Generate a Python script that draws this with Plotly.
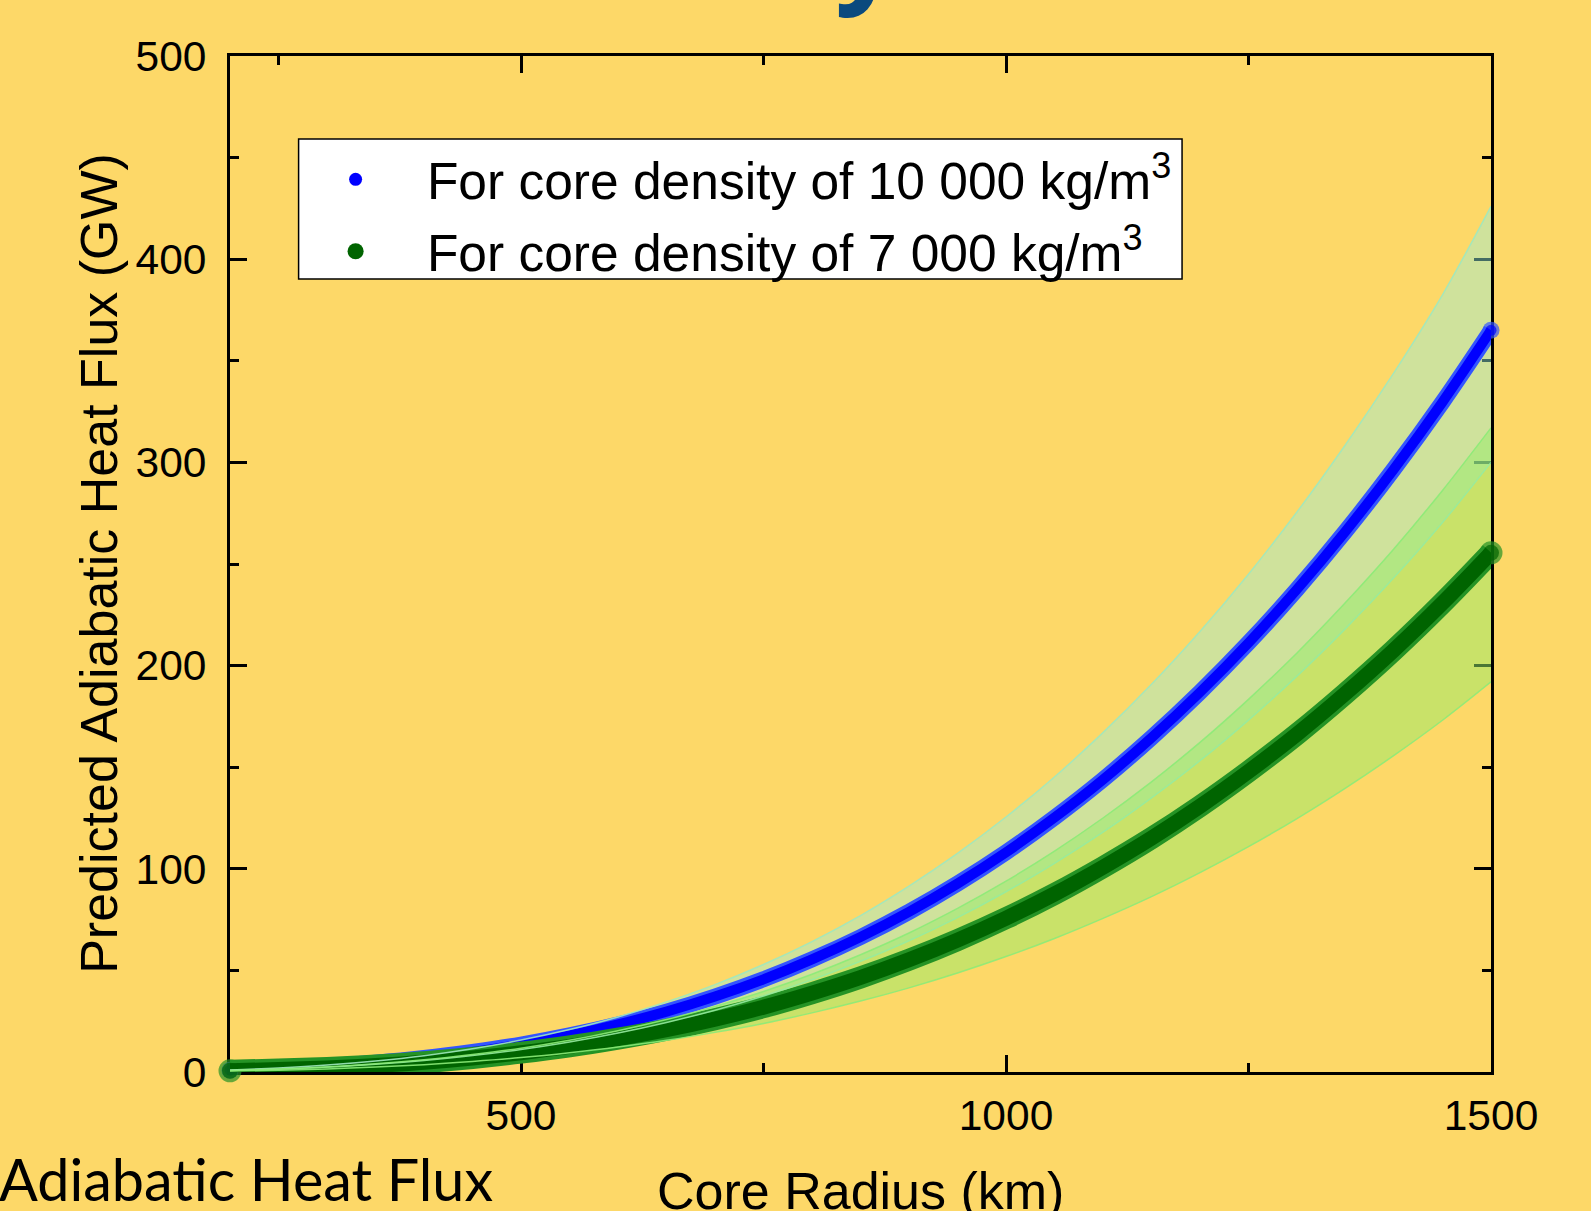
import plotly.graph_objects as go

# ---- data ----
radius_km = [200, 250, 300, 350, 400, 450, 500, 550, 600, 650, 700, 750, 800, 850,
             900, 950, 1000, 1050, 1100, 1150, 1200, 1250, 1300, 1350, 1400, 1450, 1500]

flux_10000 = [0.9, 1.7, 2.9, 4.6, 6.9, 9.9, 13.5, 18.0, 23.4, 29.7, 37.1, 45.6, 55.4, 66.4,
              78.8, 92.7, 108.1, 125.2, 143.9, 164.5, 186.9, 211.2, 237.6, 266.1, 296.8, 329.7, 365.0]
flux_10000_hi = [1.0, 2.0, 3.4, 5.4, 8.0, 11.4, 15.7, 20.9, 27.1, 34.5, 43.0, 52.9, 64.2, 77.0,
                 91.5, 107.6, 125.5, 145.2, 167.0, 190.8, 216.8, 245.0, 275.6, 308.7, 344.2, 382.5, 426.0]
flux_10000_lo = [0.7, 1.4, 2.4, 3.8, 5.7, 8.1, 11.1, 14.8, 19.2, 24.4, 30.4, 37.4, 45.4, 54.5,
                 64.6, 76.0, 88.7, 102.7, 118.0, 134.9, 153.2, 173.2, 194.8, 218.2, 243.3, 270.4, 300.0]

flux_7000 = [0.6, 1.2, 2.0, 3.2, 4.8, 6.9, 9.5, 12.6, 16.4, 20.8, 26.0, 31.9, 38.8, 46.5,
             55.2, 64.9, 75.7, 87.6, 100.8, 115.1, 130.8, 147.9, 166.3, 186.3, 207.7, 230.8, 255.5]
flux_7000_hi = [0.75, 1.5, 2.5, 4.0, 6.0, 8.6, 11.7, 15.6, 20.3, 25.8, 32.2, 39.6, 48.1, 57.7,
                68.4, 80.5, 93.9, 108.7, 125.0, 142.8, 162.2, 183.4, 206.2, 231.0, 257.5, 286.2, 317.0]
flux_7000_lo = [0.45, 0.9, 1.5, 2.4, 3.6, 5.2, 7.1, 9.5, 12.3, 15.6, 19.5, 23.9, 29.1, 34.9,
                41.4, 48.7, 56.8, 65.7, 75.6, 86.3, 98.1, 110.9, 124.7, 139.7, 155.8, 173.1, 192.0]

legend_names = ["\u00a0For core density of 10 000 kg/m<sup>3</sup>",
                "\u00a0For core density of 7 000 kg/m<sup>3</sup>"]

BG = "#FDD868"
FONT = "Liberation Sans, Arial, sans-serif"

fig = go.Figure()

n = len(radius_km)


def end_sizes(w):
    return [w] + [0] * (n - 2) + [w]


# uncertainty bands
fig.add_trace(go.Scatter(x=radius_km, y=flux_10000_lo, mode="lines",
                         line=dict(color="rgba(0,0,0,0)", width=0),
                         showlegend=False, hoverinfo="skip"))
fig.add_trace(go.Scatter(x=radius_km, y=flux_10000_hi, mode="lines", fill="tonexty",
                         fillcolor="rgba(150,240,220,0.45)",
                         line=dict(color="rgba(0,0,0,0)", width=0),
                         showlegend=False, hoverinfo="skip"))
fig.add_trace(go.Scatter(x=radius_km, y=flux_7000_lo, mode="lines",
                         line=dict(color="rgba(0,0,0,0)", width=0),
                         showlegend=False, hoverinfo="skip"))
fig.add_trace(go.Scatter(x=radius_km, y=flux_7000_hi, mode="lines", fill="tonexty",
                         fillcolor="rgba(150,235,105,0.5)",
                         line=dict(color="rgba(0,0,0,0)", width=0),
                         showlegend=False, hoverinfo="skip"))

# main curves (outer lighter edge + inner core)
fig.add_trace(go.Scatter(x=radius_km, y=flux_10000, mode="lines+markers",
                         line=dict(color="#3355FF", width=16, shape="spline"),
                         marker=dict(size=end_sizes(17), color="#3355FF", line=dict(width=0)),
                         cliponaxis=False, showlegend=False, hoverinfo="skip"))
fig.add_trace(go.Scatter(x=radius_km, y=flux_10000, mode="lines+markers",
                         line=dict(color="#0000FF", width=10, shape="spline"),
                         marker=dict(size=end_sizes(11), color="#0000FF", line=dict(width=0)),
                         cliponaxis=False, showlegend=False, hoverinfo="skip"))
fig.add_trace(go.Scatter(x=radius_km, y=flux_7000, mode="lines+markers",
                         line=dict(color="#259325", width=22, shape="spline"),
                         marker=dict(size=end_sizes(23), color="#259325", line=dict(width=0)),
                         cliponaxis=False, showlegend=False, hoverinfo="skip"))
fig.add_trace(go.Scatter(x=radius_km, y=flux_7000, mode="lines+markers",
                         line=dict(color="#006400", width=15, shape="spline"),
                         marker=dict(size=end_sizes(16), color="#006400", line=dict(width=0)),
                         cliponaxis=False, showlegend=False, hoverinfo="skip"))

# band edge lines on top
for ys, col in [(flux_10000_hi, "rgba(160,232,190,0.9)"), (flux_10000_lo, "rgba(150,235,160,0.9)"),
                (flux_7000_hi, "rgba(140,235,120,0.9)"), (flux_7000_lo, "rgba(140,235,120,0.9)")]:
    fig.add_trace(go.Scatter(x=radius_km, y=ys, mode="lines",
                             line=dict(color=col, width=1.5, shape="spline"),
                             showlegend=False, hoverinfo="skip"))

# legend entries
fig.add_trace(go.Scatter(x=[None], y=[None], mode="markers", name=legend_names[0],
                         legendgroup="a", marker=dict(color="#0000FF", size=13)))
fig.add_trace(go.Scatter(x=[None], y=[None], mode="markers", name=legend_names[1],
                         legendgroup="b", marker=dict(color="#006400", size=18)))

axis_common = dict(
    showline=True, linewidth=3, linecolor="black", mirror="ticks",
    ticks="inside", ticklen=17, tickwidth=3, tickcolor="black",
    showgrid=False, zeroline=False, layer="below traces",
    tickfont=dict(family=FONT, size=42.5, color="black"),
)

fig.update_xaxes(range=[200, 1500], tick0=0, dtick=500,
                 minor=dict(dtick=250, tick0=0, ticklen=9, tickwidth=3, ticks="inside",
                            tickcolor="black", showgrid=False),
                 ticklabelstandoff=4, **axis_common)
fig.update_yaxes(range=[0, 500], tick0=0, dtick=100,
                 minor=dict(dtick=50, tick0=0, ticklen=9, tickwidth=3, ticks="inside",
                            tickcolor="black", showgrid=False),
                 ticklabelstandoff=12, **axis_common)

fig.update_layout(
    width=1591, height=1211,
    margin=dict(l=230, r=100, t=56, b=139, autoexpand=False),
    paper_bgcolor=BG, plot_bgcolor=BG,
    font=dict(family=FONT, color="black"),
    showlegend=True,
    legend=dict(x=0.0544, y=0.918, xanchor="left", yanchor="top",
                bgcolor="rgba(0,0,0,0)", borderwidth=0,
                font=dict(family=FONT, size=51.5, color="black"),
                itemwidth=104, traceorder="grouped", tracegroupgap=2),
    shapes=[
        dict(type="rect", xref="paper", yref="paper", x0=0.0544, x1=0.755,
             y0=0.7805, y1=0.9183, fillcolor="white",
             line=dict(color="black", width=1.5), layer="above"),
    ],
    annotations=[
        dict(text="Core Radius (km)", xref="paper", yref="paper", x=0.5, y=-0.117,
             xanchor="center", yanchor="middle", showarrow=False,
             font=dict(family=FONT, size=52, color="black")),
        dict(text="Predicted Adiabatic Heat Flux (GW)", xref="paper", yref="paper",
             x=-0.104, y=0.501, xanchor="center", yanchor="middle", textangle=-90,
             showarrow=False, font=dict(family=FONT, size=52, color="black")),
        dict(text="Adiabatic Heat Flux", xref="paper", yref="paper", x=-0.1845, y=-0.105,
             xanchor="left", yanchor="middle", showarrow=False,
             font=dict(family="Lato, Carlito, sans-serif", size=57.5, color="black")),
        dict(text="<b>y</b>", xref="paper", yref="paper", x=0.506, y=1.0291,
             xanchor="center", yanchor="bottom", showarrow=False,
             font=dict(family="Open Sans, sans-serif", size=115, color="#0B4A7E")),
    ],
)

fig.write_html("out.html", config={"displayModeBar": False},
               post_script="document.body.style.margin='0';")
